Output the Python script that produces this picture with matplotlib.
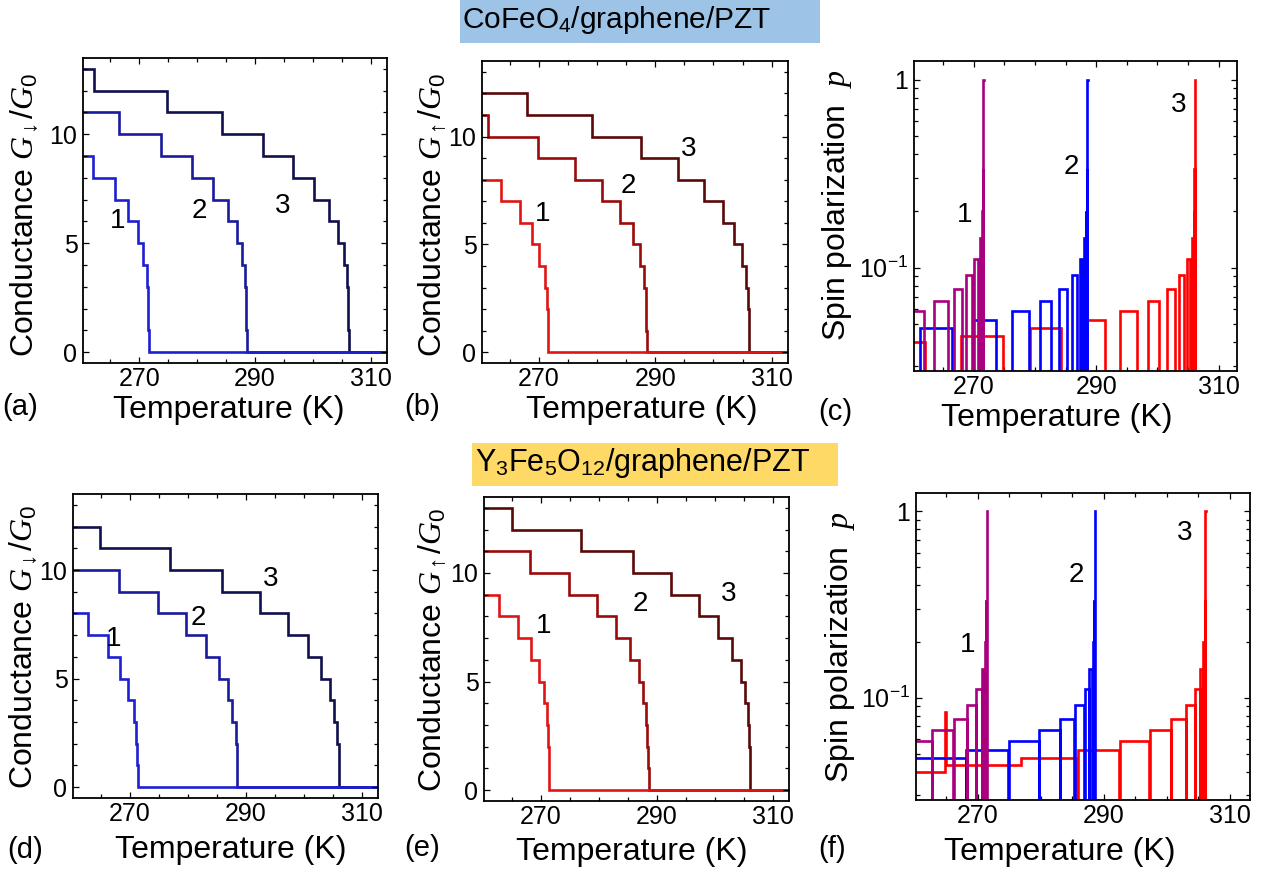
import numpy as np
import matplotlib
matplotlib.use("Agg")
import matplotlib.pyplot as plt
from matplotlib.patches import Rectangle
from matplotlib.ticker import FixedLocator, MultipleLocator, NullFormatter

plt.rcParams['font.family'] = ['Liberation Sans', 'DejaVu Sans']
plt.rcParams['mathtext.fontset'] = 'custom'
plt.rcParams['mathtext.rm'] = 'Liberation Sans'
plt.rcParams['mathtext.it'] = 'Liberation Serif:italic'
plt.rcParams['mathtext.bf'] = 'Liberation Sans:bold'
plt.rcParams['mathtext.sf'] = 'Liberation Sans'

# ---------------- data (step temperatures in K, conductance levels in G0) -------------
curve_names = ['1', '2', '3']

# CoFeO4/graphene/PZT : spin-down (panel a)
cfo_dn1_T = [261.9, 265.8, 268.1, 269.7, 270.7, 271.25, 271.45, 271.55, 271.65]
cfo_dn1_G = [9, 8, 7, 6, 5, 4, 3, 2, 1, 0]
cfo_dn2_T = [266.5, 273.7, 279.1, 282.7, 285.3, 286.8, 287.7, 288.2, 288.4, 288.5, 288.6]
cfo_dn2_G = [11, 10, 9, 8, 7, 6, 5, 4, 3, 2, 1, 0]
cfo_dn3_T = [262.1, 274.8, 284.2, 291.4, 296.6, 300.2, 302.8, 304.3, 305.3, 305.8, 306.0, 306.1, 306.2]
cfo_dn3_G = [13, 12, 11, 10, 9, 8, 7, 6, 5, 4, 3, 2, 1, 0]
# CoFeO4/graphene/PZT : spin-up (panel b)
cfo_up1_T = [263.5, 266.8, 268.8, 270.1, 271.0, 271.35, 271.5, 271.6]
cfo_up1_G = [8, 7, 6, 5, 4, 3, 2, 1, 0]
cfo_up2_T = [261.2, 269.9, 276.2, 280.8, 284.0, 286.1, 287.4, 288.05, 288.35, 288.45, 288.55]
cfo_up2_G = [11, 10, 9, 8, 7, 6, 5, 4, 3, 2, 1, 0]
cfo_up3_T = [267.9, 279.2, 287.6, 293.9, 298.4, 301.6, 303.6, 304.9, 305.6, 305.95, 306.05, 306.15]
cfo_up3_G = [12, 11, 10, 9, 8, 7, 6, 5, 4, 3, 2, 1, 0]

# Y3Fe5O12/graphene/PZT : spin-down (panel d)
yig_dn1_T = [262.8, 266.2, 268.4, 269.75, 270.7, 271.15, 271.35, 271.45]
yig_dn1_G = [8, 7, 6, 5, 4, 3, 2, 1, 0]
yig_dn2_T = [268.15, 274.95, 279.75, 283.1, 285.4, 287.0, 287.65, 288.25, 288.45, 288.55]
yig_dn2_G = [10, 9, 8, 7, 6, 5, 4, 3, 2, 1, 0]
yig_dn3_T = [264.9, 276.95, 285.9, 292.55, 297.3, 300.7, 303.05, 304.5, 305.3, 305.8, 306.0, 306.1]
yig_dn3_G = [12, 11, 10, 9, 8, 7, 6, 5, 4, 3, 2, 1, 0]
# Y3Fe5O12/graphene/PZT : spin-up (panel e)
yig_up1_T = [262.75, 266.15, 268.35, 269.7, 270.65, 271.1, 271.3, 271.4, 271.5]
yig_up1_G = [9, 8, 7, 6, 5, 4, 3, 2, 1, 0]
yig_up2_T = [268.1, 274.9, 279.7, 283.05, 285.35, 286.95, 287.6, 288.2, 288.4, 288.5, 288.6]
yig_up2_G = [11, 10, 9, 8, 7, 6, 5, 4, 3, 2, 1, 0]
yig_up3_T = [265.0, 276.95, 285.85, 292.5, 297.25, 300.65, 303.0, 304.45, 305.25, 305.75, 305.95, 306.05, 306.15]
yig_up3_G = [13, 12, 11, 10, 9, 8, 7, 6, 5, 4, 3, 2, 1, 0]

# curve-number label positions (T, value)
lab_a = [(266.3, 6.0), (280.4, 6.5), (294.7, 6.7)]
lab_b = [(270.7, 6.4), (285.4, 7.7), (295.8, 9.4)]
lab_c = [(268.55, 0.19), (285.95, 0.343), (303.5, 0.73)]
lab_d = [(267.2, 6.8), (281.9, 7.8), (294.35, 9.57)]
lab_e = [(270.5, 7.58), (287.25, 8.58), (302.4, 9.03)]
lab_f = [(268.4, 0.192), (285.6, 0.457), (302.8, 0.766)]

x_major = [270, 290, 310]
x_minor = [260, 265, 275, 280, 285, 295, 300, 305]
G_major = [0, 5, 10]
p_major = [0.1, 1]
p_major_labels = [r'$\mathregular{10^{-1}}$', '1']
p_minor = [0.03, 0.04, 0.05, 0.06, 0.07, 0.08, 0.09, 0.2, 0.3, 0.4, 0.5, 0.6, 0.7, 0.8, 0.9]

# ---------------- styling ----------------
dn_colors = ['#1e1ed2', '#1a1a9e', '#10104e']
up_colors = ['#e01414', '#9a0a0a', '#5a0808']
p_colors = ['#a8007e', '#0000ff', '#ff0000']

W, H = 1277, 881
fig = plt.figure(figsize=(W / 100, H / 100), dpi=100)


def frac_rect(l, r, t, b):
    return [l / W, 1 - b / H, (r - l) / W, (b - t) / H]


def ftext(x, y, s, **kw):
    fig.text(x / W, 1 - y / H, s, **kw)


X0, X1 = 255.0, 320.0   # line extents (beyond the frame, clipped)


def style_axes(ax, xlim):
    ax.set_xlim(*xlim)
    ax.set_xticks(x_major)
    ax.xaxis.set_minor_locator(FixedLocator(x_minor))
    ax.tick_params(which='both', direction='in', top=True, right=True,
                   labelsize=18, width=0.9, colors='black')
    ax.tick_params(which='major', length=4.5)
    ax.tick_params(which='minor', length=2.8)
    ax.tick_params(axis='x', pad=3)
    ax.tick_params(axis='y', pad=4)
    for s in ax.spines.values():
        s.set_linewidth(1.3)


def g_panel(rect, Ts, Gs, colors, labs, xlim=(260.25, 312.8)):
    ax = fig.add_axes(frac_rect(*rect))
    for i in [2, 1, 0]:
        edges = [X0] + list(Ts[i]) + [X1]
        ax.stairs(Gs[i], edges, baseline=None, color=colors[i], lw=1.9)
    style_axes(ax, xlim)
    ax.set_ylim(-0.5, 13.5)
    ax.set_yticks(G_major)
    ax.yaxis.set_minor_locator(MultipleLocator(1))
    for name, (tx, ty) in zip(curve_names, labs):
        ax.text(tx, ty, name, fontsize=20, ha='center', va='center')
    return ax


def level_at(T, steps, levels):
    return np.asarray(levels, dtype=float)[np.searchsorted(steps, T, side='right')]


def p_panel(rect, dnT, dnG, upT, upG, labs, xlim=(260.25, 313.0)):
    ax = fig.add_axes(frac_rect(*rect))
    ax.set_yscale('log')
    for i in [2, 1, 0]:
        edges = np.unique(np.concatenate([[X0], dnT[i], upT[i], [X1]]))
        mids = 0.5 * (edges[:-1] + edges[1:])
        gd = level_at(mids, dnT[i], dnG[i])
        gu = level_at(mids, upT[i], upG[i])
        tot = gd + gu
        with np.errstate(invalid='ignore', divide='ignore'):
            p = np.abs(gd - gu) / tot
        p[tot == 0] = np.nan
        p[p == 0] = 1e-4          # p = 0 drawn down to the bottom of the log frame
        x = np.repeat(edges, 2)[1:-1]
        y = np.repeat(p, 2)
        ax.plot(x, y, color=p_colors[i], lw=1.9, solid_joinstyle='miter')
    style_axes(ax, xlim)
    ax.set_ylim(0.0282, 1.255)
    ax.yaxis.set_major_locator(FixedLocator(p_major))
    ax.set_yticklabels(p_major_labels)
    ax.yaxis.set_minor_locator(FixedLocator(p_minor))
    ax.yaxis.set_minor_formatter(NullFormatter())
    for name, (tx, ty) in zip(curve_names, labs):
        ax.text(tx, ty, name, fontsize=20, ha='center', va='center')
    return ax


# panels
g_panel((83, 387, 58, 363), [cfo_dn1_T, cfo_dn2_T, cfo_dn3_T],
        [cfo_dn1_G, cfo_dn2_G, cfo_dn3_G], dn_colors, lab_a)
g_panel((482, 788, 61, 363), [cfo_up1_T, cfo_up2_T, cfo_up3_T],
        [cfo_up1_G, cfo_up2_G, cfo_up3_G], up_colors, lab_b)
p_panel((914, 1237, 61, 371), [cfo_dn1_T, cfo_dn2_T, cfo_dn3_T],
        [cfo_dn1_G, cfo_dn2_G, cfo_dn3_G], [cfo_up1_T, cfo_up2_T, cfo_up3_T],
        [cfo_up1_G, cfo_up2_G, cfo_up3_G], lab_c)
g_panel((73, 378, 494, 798), [yig_dn1_T, yig_dn2_T, yig_dn3_T],
        [yig_dn1_G, yig_dn2_G, yig_dn3_G], dn_colors, lab_d)
g_panel((484, 789, 497, 801), [yig_up1_T, yig_up2_T, yig_up3_T],
        [yig_up1_G, yig_up2_G, yig_up3_G], up_colors, lab_e)
p_panel((916, 1250, 493, 800), [yig_dn1_T, yig_dn2_T, yig_dn3_T],
        [yig_dn1_G, yig_dn2_G, yig_dn3_G], [yig_up1_T, yig_up2_T, yig_up3_T],
        [yig_up1_G, yig_up2_G, yig_up3_G], lab_f, xlim=(260.25, 313.2))

# axis labels
lab_fs = 23
ylab_dn = r'Conductance $G_{\downarrow}/G_0$'
ylab_up = r'Conductance $G_{\uparrow}/G_0$'
ylab_p = r'Spin polarization  $p$'
for (x, y, s) in [(25, 215, ylab_dn), (433, 215, ylab_up), (837, 205, ylab_p),
                  (24, 647, ylab_dn), (433, 650, ylab_up), (840, 647, ylab_p)]:
    ftext(x, y, s, rotation=90, ha='center', va='center', fontsize=lab_fs)

for (x, y) in [(229, 410), (642, 410), (1057, 418), (231, 850), (632, 852), (1060, 852)]:
    ftext(x, y, 'Temperature (K)', ha='center', va='center', fontsize=lab_fs)

for (x, y, s) in [(20, 407, '(a)'), (422, 407, '(b)'), (835, 412, '(c)'),
                  (25, 850, '(d)'), (422, 848, '(e)'), (832, 849, '(f)')]:
    ftext(x, y, s, ha='center', va='center', fontsize=21)

# title boxes
fig.patches.append(Rectangle((460 / W, 1 - 43 / H), 360 / W, 43 / H,
                             transform=fig.transFigure, facecolor='#9dc3e6',
                             edgecolor='none', zorder=0))
ftext(462, 28.5, r'CoFeO$_4$/graphene/PZT', ha='left', va='baseline', fontsize=21.5)
fig.patches.append(Rectangle((472 / W, 1 - 486 / H), 366 / W, 43 / H,
                             transform=fig.transFigure, facecolor='#ffd966',
                             edgecolor='none', zorder=0))
ftext(475, 471.5, r'Y$_3$Fe$_5$O$_{12}$/graphene/PZT', ha='left', va='baseline', fontsize=22)

fig.savefig('out.png', dpi=100)
